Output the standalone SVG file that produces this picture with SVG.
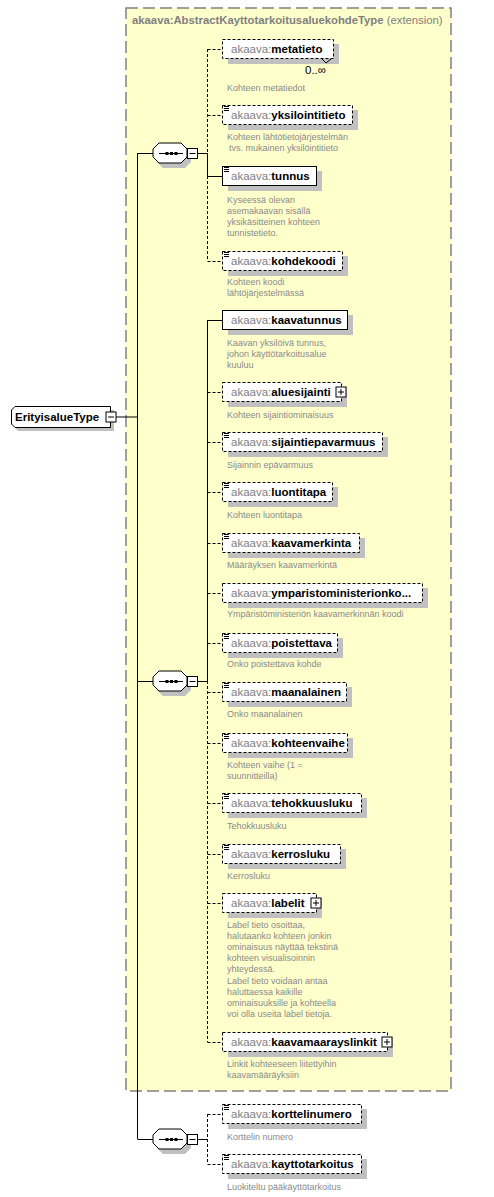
<svg xmlns="http://www.w3.org/2000/svg" width="494" height="1197" viewBox="0 0 494 1197">
<style>
.bg{fill:#fff}
.ext{fill:#ffffcc;stroke:#808080;stroke-width:1.5;stroke-dasharray:12 5}
.sh{fill:#c0c0c0}
.box{fill:#fff;stroke:#000;stroke-width:1}
.opt{stroke-dasharray:3 2}
.ln{stroke:#000;stroke-width:1;fill:none}
.dl{stroke-dasharray:3 2}
.lbl{font-family:"Liberation Sans",Arial,sans-serif;font-size:11.5px}
.ns{fill:#808080}
.nm{fill:#000;font-weight:bold}
.desc{font-family:"Liberation Sans",Arial,sans-serif;font-size:9px;fill:#8a8a8a}
.ttl{font-family:"Liberation Sans",Arial,sans-serif;font-size:11.3px;fill:#808080}
.ic{stroke:#000;stroke-width:1}
</style>
<defs>
<g id="icon"><path class="ic" d="M1,1.5H6M1,3.5H6M1,5.5H6"/></g>
<g id="plus"><rect x="0.5" y="0.5" width="10" height="10" fill="#fff" stroke="#000"/><path class="ic" d="M2.5,5.5H8.5M5.5,2.5V8.5"/></g>
<g id="minus"><rect x="0.5" y="0.5" width="10" height="10" fill="#fff" stroke="#000"/><path class="ic" d="M2.5,5.5H8.5"/></g>
<g id="seq">
<path class="sh" d="M163,-5H185L191,1V9L185,15H163L157,9V1Z"/>
<path d="M159,-10H181L187,-4V4L181,10H159L153,4V-4Z" fill="#fff" stroke="#000"/>
<path class="ic" d="M159,0.5H183"/>
<rect x="165.5" y="-1" width="3" height="3" fill="#000"/>
<rect x="170" y="-1" width="3" height="3" fill="#000"/>
<rect x="174.5" y="-1" width="3" height="3" fill="#000"/>
<use href="#minus" x="187" y="-5"/>
</g>
</defs>
<rect class="bg" width="494" height="1197"/>

<g id="extension">
<rect class="ext" x="126" y="8" width="325" height="1083"/>
<text class="ttl" x="132" y="24"><tspan font-weight="bold">akaava:AbstractKayttotarkoitusaluekohdeType</tspan> (extension)</text>
</g>

<g id="connectors">
<path class="ln" d="M116,417H137.5M137.5,153V1139M137.5,153.5H153M137.5,681.5H153M137.5,1139.5H153"/>
<path class="ln" d="M197,153.5H207.5M197,681.5H207.5M197,1139.5H207.5"/>
<!-- seq1 -->
<path class="ln dl" d="M207.5,49V153M207.5,49.5H222M207.5,115.5H222M207.5,176V261M207.5,261.5H222"/>
<path class="ln" d="M207.5,153V176M207.5,176.5H222"/>
<!-- seq2 -->
<path class="ln" d="M207.5,320V681M207.5,320.5H222"/>
<path class="ln dl" d="M207.5,681V1042M207.5,392.5H222M207.5,442.5H222M207.5,492.5H222M207.5,543.5H222M207.5,593.5H222M207.5,643.5H222M207.5,692.5H222M207.5,743.5H222M207.5,803.5H222M207.5,854.5H222M207.5,903.5H222M207.5,1042.5H222"/>
<!-- seq3 -->
<path class="ln dl" d="M207.5,1114V1164M207.5,1114.5H222M207.5,1164.5H222"/>
</g>

<g id="root">
<path class="sh" d="M18,410H114V431H18L15,428V413Z"/>
<path d="M15,406.5H110.5V427.5H15L11.5,424V410Z" fill="#fff" stroke="#000"/>
<text class="lbl nm" x="15" y="421">ErityisalueType</text>
<use href="#minus" x="105.5" y="411.5"/>
</g>

<g id="seq1"><use href="#seq" y="153"/></g>
<g id="seq2"><use href="#seq" y="681"/></g>
<g id="seq3"><use href="#seq" y="1139"/></g>

<g id="n-metatieto">
<rect class="sh" x="228" y="44" width="111" height="20"/>
<rect class="box opt" x="222.5" y="39.5" width="111" height="19"/>
<path class="ln" d="M322,59L326,63L331,59" />
<text class="lbl" x="231" y="53"><tspan class="ns">akaava:</tspan><tspan class="nm">metatieto</tspan></text>
<text class="lbl" x="305" y="74" font-size="11">0..∞</text>
<text class="desc" x="227" y="91">Kohteen metatiedot</text>
</g>

<g id="n-yksilointitieto">
<rect class="sh" x="228" y="110" width="130" height="20"/>
<rect class="box opt" x="222.5" y="105.5" width="130" height="19"/>
<use href="#icon" x="223" y="105"/>
<text class="lbl" x="231" y="119"><tspan class="ns">akaava:</tspan><tspan class="nm">yksilointitieto</tspan></text>
<text class="desc" x="227" y="140">Kohteen lähtötietojärjestelmän</text>
<text class="desc" x="229" y="151">tvs. mukainen yksilöintitieto</text>
</g>

<g id="n-tunnus">
<rect class="sh" x="228" y="171" width="94" height="20"/>
<rect class="box" x="222.5" y="166.5" width="94" height="19"/>
<use href="#icon" x="223" y="166"/>
<text class="lbl" x="231" y="180"><tspan class="ns">akaava:</tspan><tspan class="nm">tunnus</tspan></text>
<text class="desc" x="227" y="203">Kyseessä olevan</text>
<text class="desc" x="227" y="214">asemakaavan sisällä</text>
<text class="desc" x="227" y="225">yksikäsitteinen kohteen</text>
<text class="desc" x="227" y="236">tunnistetieto.</text>
</g>

<g id="n-kohdekoodi">
<rect class="sh" x="228" y="256" width="120" height="20"/>
<rect class="box opt" x="222.5" y="251.5" width="120" height="19"/>
<use href="#icon" x="223" y="251"/>
<text class="lbl" x="231" y="265"><tspan class="ns">akaava:</tspan><tspan class="nm">kohdekoodi</tspan></text>
<text class="desc" x="227" y="285">Kohteen koodi</text>
<text class="desc" x="227" y="296">lähtöjärjestelmässä</text>
</g>

<g id="n-kaavatunnus">
<rect class="sh" x="228" y="315" width="125" height="20"/>
<rect class="box" x="222.5" y="310.5" width="125" height="19"/>
<text class="lbl" x="231" y="324"><tspan class="ns">akaava:</tspan><tspan class="nm">kaavatunnus</tspan></text>
<text class="desc" x="227" y="346">Kaavan yksilöivä tunnus,</text>
<text class="desc" x="227" y="357">johon käyttötarkoitusalue</text>
<text class="desc" x="227" y="368">kuuluu</text>
</g>

<g id="n-aluesijainti">
<rect class="sh" x="228" y="387" width="119" height="20"/>
<rect class="box opt" x="222.5" y="382.5" width="119" height="19"/>
<text class="lbl" x="231" y="396"><tspan class="ns">akaava:</tspan><tspan class="nm">aluesijainti</tspan></text>
<use href="#plus" x="335.5" y="386.5"/>
<text class="desc" x="227" y="418">Kohteen sijaintiominaisuus</text>
</g>

<g id="n-sijaintiepavarmuus">
<rect class="sh" x="228" y="437" width="160" height="20"/>
<rect class="box opt" x="222.5" y="432.5" width="160" height="19"/>
<use href="#icon" x="223" y="432"/>
<text class="lbl" x="231" y="446"><tspan class="ns">akaava:</tspan><tspan class="nm">sijaintiepavarmuus</tspan></text>
<text class="desc" x="227" y="468">Sijainnin epävarmuus</text>
</g>

<g id="n-luontitapa">
<rect class="sh" x="228" y="487" width="110" height="20"/>
<rect class="box opt" x="222.5" y="482.5" width="110" height="19"/>
<use href="#icon" x="223" y="482"/>
<text class="lbl" x="231" y="496"><tspan class="ns">akaava:</tspan><tspan class="nm">luontitapa</tspan></text>
<text class="desc" x="227" y="518">Kohteen luontitapa</text>
</g>

<g id="n-kaavamerkinta">
<rect class="sh" x="228" y="538" width="137" height="20"/>
<rect class="box opt" x="222.5" y="533.5" width="137" height="19"/>
<use href="#icon" x="223" y="533"/>
<text class="lbl" x="231" y="547"><tspan class="ns">akaava:</tspan><tspan class="nm">kaavamerkinta</tspan></text>
<text class="desc" x="227" y="568">Määräyksen kaavamerkintä</text>
</g>

<g id="n-ymparistoministerionkoodi">
<rect class="sh" x="228" y="588" width="200" height="20"/>
<rect class="box opt" x="222.5" y="583.5" width="200" height="19"/>
<text class="lbl" x="231" y="597"><tspan class="ns">akaava:</tspan><tspan class="nm">ymparistoministerionko...</tspan></text>
<text class="desc" x="227" y="617">Ympäristöministeriön kaavamerkinnän koodi</text>
</g>

<g id="n-poistettava">
<rect class="sh" x="228" y="638" width="115" height="20"/>
<rect class="box opt" x="222.5" y="633.5" width="115" height="19"/>
<use href="#icon" x="223" y="633"/>
<text class="lbl" x="231" y="647"><tspan class="ns">akaava:</tspan><tspan class="nm">poistettava</tspan></text>
<text class="desc" x="227" y="667">Onko poistettava kohde</text>
</g>

<g id="n-maanalainen">
<rect class="sh" x="228" y="687" width="124" height="20"/>
<rect class="box opt" x="222.5" y="682.5" width="124" height="19"/>
<use href="#icon" x="223" y="682"/>
<text class="lbl" x="231" y="696"><tspan class="ns">akaava:</tspan><tspan class="nm">maanalainen</tspan></text>
<text class="desc" x="227" y="717">Onko maanalainen</text>
</g>

<g id="n-kohteenvaihe">
<rect class="sh" x="228" y="738" width="125" height="20"/>
<rect class="box opt" x="222.5" y="733.5" width="125" height="19"/>
<use href="#icon" x="223" y="733"/>
<text class="lbl" x="231" y="747"><tspan class="ns">akaava:</tspan><tspan class="nm">kohteenvaihe</tspan></text>
<text class="desc" x="227" y="768">Kohteen vaihe (1 =</text>
<text class="desc" x="227" y="779">suunnitteilla)</text>
</g>

<g id="n-tehokkuusluku">
<rect class="sh" x="228" y="798" width="139" height="20"/>
<rect class="box opt" x="222.5" y="793.5" width="139" height="19"/>
<use href="#icon" x="223" y="793"/>
<text class="lbl" x="231" y="807"><tspan class="ns">akaava:</tspan><tspan class="nm">tehokkuusluku</tspan></text>
<text class="desc" x="227" y="829">Tehokkuusluku</text>
</g>

<g id="n-kerrosluku">
<rect class="sh" x="228" y="849" width="118" height="20"/>
<rect class="box opt" x="222.5" y="844.5" width="118" height="19"/>
<use href="#icon" x="223" y="844"/>
<text class="lbl" x="231" y="858"><tspan class="ns">akaava:</tspan><tspan class="nm">kerrosluku</tspan></text>
<text class="desc" x="227" y="879">Kerrosluku</text>
</g>

<g id="n-labelit">
<rect class="sh" x="228" y="898" width="94" height="20"/>
<rect class="box opt" x="222.5" y="893.5" width="94" height="19"/>
<text class="lbl" x="231" y="907"><tspan class="ns">akaava:</tspan><tspan class="nm">labelit</tspan></text>
<use href="#plus" x="310.5" y="897.5"/>
<text class="desc" x="227" y="928">Label tieto osoittaa,</text>
<text class="desc" x="227" y="939">halutaanko kohteen jonkin</text>
<text class="desc" x="227" y="950">ominaisuus näyttää tekstinä</text>
<text class="desc" x="227" y="961">kohteen visualisoinnin</text>
<text class="desc" x="227" y="972">yhteydessä.</text>
<text class="desc" x="227" y="984">Label tieto voidaan antaa</text>
<text class="desc" x="227" y="995">haluttaessa kaikille</text>
<text class="desc" x="227" y="1006">ominaisuuksille ja kohteella</text>
<text class="desc" x="227" y="1017">voi olla useita label tietoja.</text>
</g>

<g id="n-kaavamaarayslinkit">
<rect class="sh" x="228" y="1037" width="165" height="20"/>
<rect class="box opt" x="222.5" y="1032.5" width="165" height="19"/>
<text class="lbl" x="231" y="1046"><tspan class="ns">akaava:</tspan><tspan class="nm">kaavamaarayslinkit</tspan></text>
<use href="#plus" x="381.5" y="1036.5"/>
<text class="desc" x="227" y="1067">Linkit kohteeseen liitettyihin</text>
<text class="desc" x="227" y="1078">kaavamääräyksiin</text>
</g>

<g id="n-korttelinumero">
<rect class="sh" x="228" y="1109" width="139" height="20"/>
<rect class="box opt" x="222.5" y="1104.5" width="139" height="19"/>
<use href="#icon" x="223" y="1104"/>
<text class="lbl" x="231" y="1118"><tspan class="ns">akaava:</tspan><tspan class="nm">korttelinumero</tspan></text>
<text class="desc" x="227" y="1140">Korttelin numero</text>
</g>

<g id="n-kayttotarkoitus">
<rect class="sh" x="228" y="1159" width="139" height="20"/>
<rect class="box opt" x="222.5" y="1154.5" width="139" height="19"/>
<use href="#icon" x="223" y="1154"/>
<text class="lbl" x="231" y="1168"><tspan class="ns">akaava:</tspan><tspan class="nm">kayttotarkoitus</tspan></text>
<text class="desc" x="227" y="1190">Luokiteltu pääkäyttötarkoitus</text>
</g>
</svg>
